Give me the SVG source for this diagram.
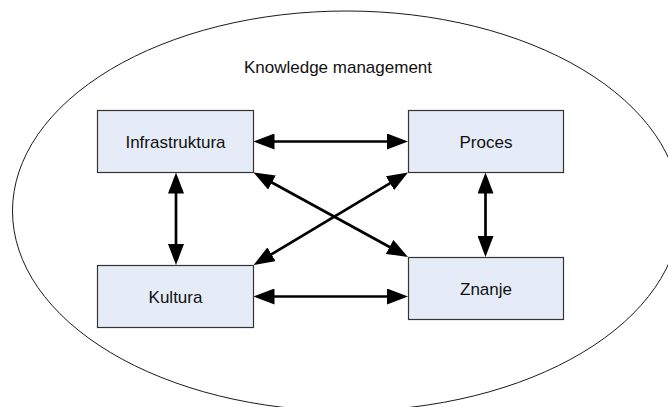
<svg xmlns="http://www.w3.org/2000/svg" width="668" height="407" viewBox="0 0 668 407">
  <style>
    .frame { fill: #ffffff; stroke: #1a1a1a; stroke-width: 1; }
    .box { fill: #e6ecf7; stroke: #333333; stroke-width: 1.2; }
    .label { font-family: "Liberation Sans", Arial, sans-serif; font-size: 17px; fill: #111111; text-anchor: middle; }
    .link { stroke: #000000; stroke-width: 2.7; fill: none; marker-start: url(#head); marker-end: url(#head); }
  </style>
  <defs>
    <marker id="head" markerUnits="userSpaceOnUse" markerWidth="22" markerHeight="16" refX="11" refY="8" orient="auto-start-reverse">
      <path d="M0,0 L21,8 L0,16 Z" fill="#000000"/>
    </marker>
  </defs>

  <rect width="668" height="407" fill="#ffffff"/>

  <!-- enclosing boundary -->
  <ellipse class="frame" cx="346.5" cy="211" rx="334" ry="200"/>
  <text class="label" x="338" y="72.5">Knowledge management</text>

  <!-- connectors -->
  <g id="connectors">
    <line class="link" x1="263.5" y1="141.5" x2="398" y2="141.5"/>
    <line class="link" x1="263.5" y1="296.5" x2="398" y2="296.5"/>
    <line class="link" x1="176" y1="182.5" x2="176" y2="255"/>
    <line class="link" x1="485.5" y1="182.5" x2="485.5" y2="247"/>
    <line class="link" x1="262.3" y1="177.3" x2="399.2" y2="252.2"/>
    <line class="link" x1="399.4" y1="177.6" x2="262.1" y2="259.9"/>
  </g>

  <!-- nodes -->
  <g id="infrastruktura">
    <rect class="box" x="97.5" y="110.5" width="156" height="62"/>
    <text class="label" x="175.5" y="147.5">Infrastruktura</text>
  </g>
  <g id="proces">
    <rect class="box" x="408.5" y="110.5" width="155" height="62"/>
    <text class="label" x="486" y="147.5">Proces</text>
  </g>
  <g id="kultura">
    <rect class="box" x="97.5" y="265.5" width="156" height="62"/>
    <text class="label" x="175.5" y="302.5">Kultura</text>
  </g>
  <g id="znanje">
    <rect class="box" x="408.5" y="257.5" width="155" height="62"/>
    <text class="label" x="486" y="294.5">Znanje</text>
  </g>
</svg>
